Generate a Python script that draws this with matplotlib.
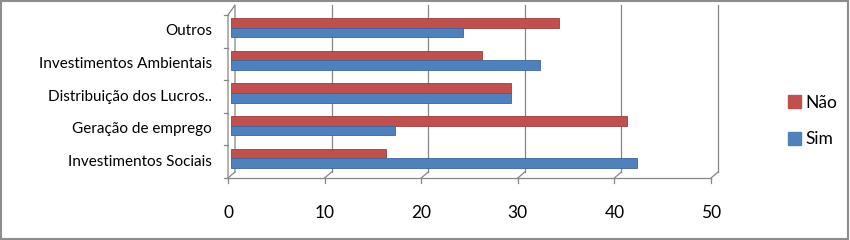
import matplotlib.pyplot as plt
from matplotlib.patches import Rectangle, Patch

categories = ['Investimentos Sociais', 'Geração de emprego', 'Distribuição dos Lucros..',
              'Investimentos Ambientais', 'Outros']
sim = [42, 17, 29, 32, 24]
nao = [16, 41, 29, 26, 34]
xticks = [0, 10, 20, 30, 40, 50]

RED = '#C0504D'
BLUE = '#4F81BD'
GRID = '#868686'

W, H = 850, 240
fig = plt.figure(figsize=(W / 100, H / 100), dpi=100)
fig.patches.append(Rectangle((0.001, 0.003), 0.997, 0.994, transform=fig.transFigure,
                             fill=False, edgecolor='#8c8c8c', lw=1.5))

# plot area in pixels: x 231..714 for 0..50, y 15..178 for the category band
left, right, top, bottom = 231, 714, 15, 178
ax = fig.add_axes([left / W, 1 - bottom / H, (right - left) / W, (bottom - top) / H])
ax.set_xlim(0, 50)
ax.set_ylim(-0.5, len(categories) - 0.5)
ax.set_axis_off()

ppu = (right - left) / 50.0          # pixels per data unit
hpx = float(bottom - top)            # axes height in pixels
back = 4 / ppu                       # back wall offset
front = -3 / ppu                     # front floor offset
tx = ax.get_xaxis_transform()
y_floor_back = 6 / hpx
y_top_back = (bottom - 5) / hpx

# back wall gridlines + floor diagonals + front ticks
for v in xticks:
    if v > 0:
        ax.plot([v + back, v + back], [y_floor_back, y_top_back], color=GRID, lw=0.9,
                transform=tx, clip_on=False, zorder=1)
    ax.plot([v + back, v + front], [y_floor_back, 0], color=GRID, lw=0.9,
            transform=tx, clip_on=False, zorder=1)
    ax.plot([v + front, v + front], [0, -5 / hpx], color=GRID, lw=0.9,
            transform=tx, clip_on=False, zorder=1)
    ax.text(v + front, -35 / hpx, str(v), transform=tx, ha='center', va='center',
            fontsize=12.5, family='Lato', color='#000000')

# front axis line
ax.plot([xticks[0] + front, xticks[-1] + front], [0, 0], color=GRID, lw=0.9,
        transform=tx, clip_on=False, zorder=1)

# left wall
ax.plot([front, front, back, back], [0, 1.0, y_top_back, y_floor_back], color=GRID, lw=0.9,
        transform=tx, clip_on=False, zorder=1)
for k in range(len(categories) + 1):
    yb = -0.5 + k
    ax.plot([front - 4 / ppu, front], [yb, yb], color=GRID, lw=0.9, clip_on=False, zorder=1)

ypos = list(range(len(categories)))
h = 0.3
ax.barh([y + 0.25 for y in ypos], nao, height=h, color=RED, edgecolor='#9b3d3a',
        lw=0.6, zorder=3, clip_on=False)
ax.barh([y - 0.04 for y in ypos], sim, height=h, color=BLUE, edgecolor='#3a659a',
        lw=0.6, zorder=3, clip_on=False)

for y, name in zip(ypos, categories):
    ax.text(front - 16 / ppu, y, name, ha='right', va='center', fontsize=11,
            family='Lato', color='#000000')

handles = [Patch(facecolor=RED, edgecolor=RED), Patch(facecolor=BLUE, edgecolor=BLUE)]
fig.legend(handles, ['Não', 'Sim'], loc='center left',
           bbox_to_anchor=(772 / W, 1 - 121 / H), frameon=False,
           prop={'family': 'Lato', 'size': 12.5}, handlelength=0.75, handleheight=0.75,
           handletextpad=0.3, labelspacing=1.2)

fig.savefig('out.png', dpi=100)
